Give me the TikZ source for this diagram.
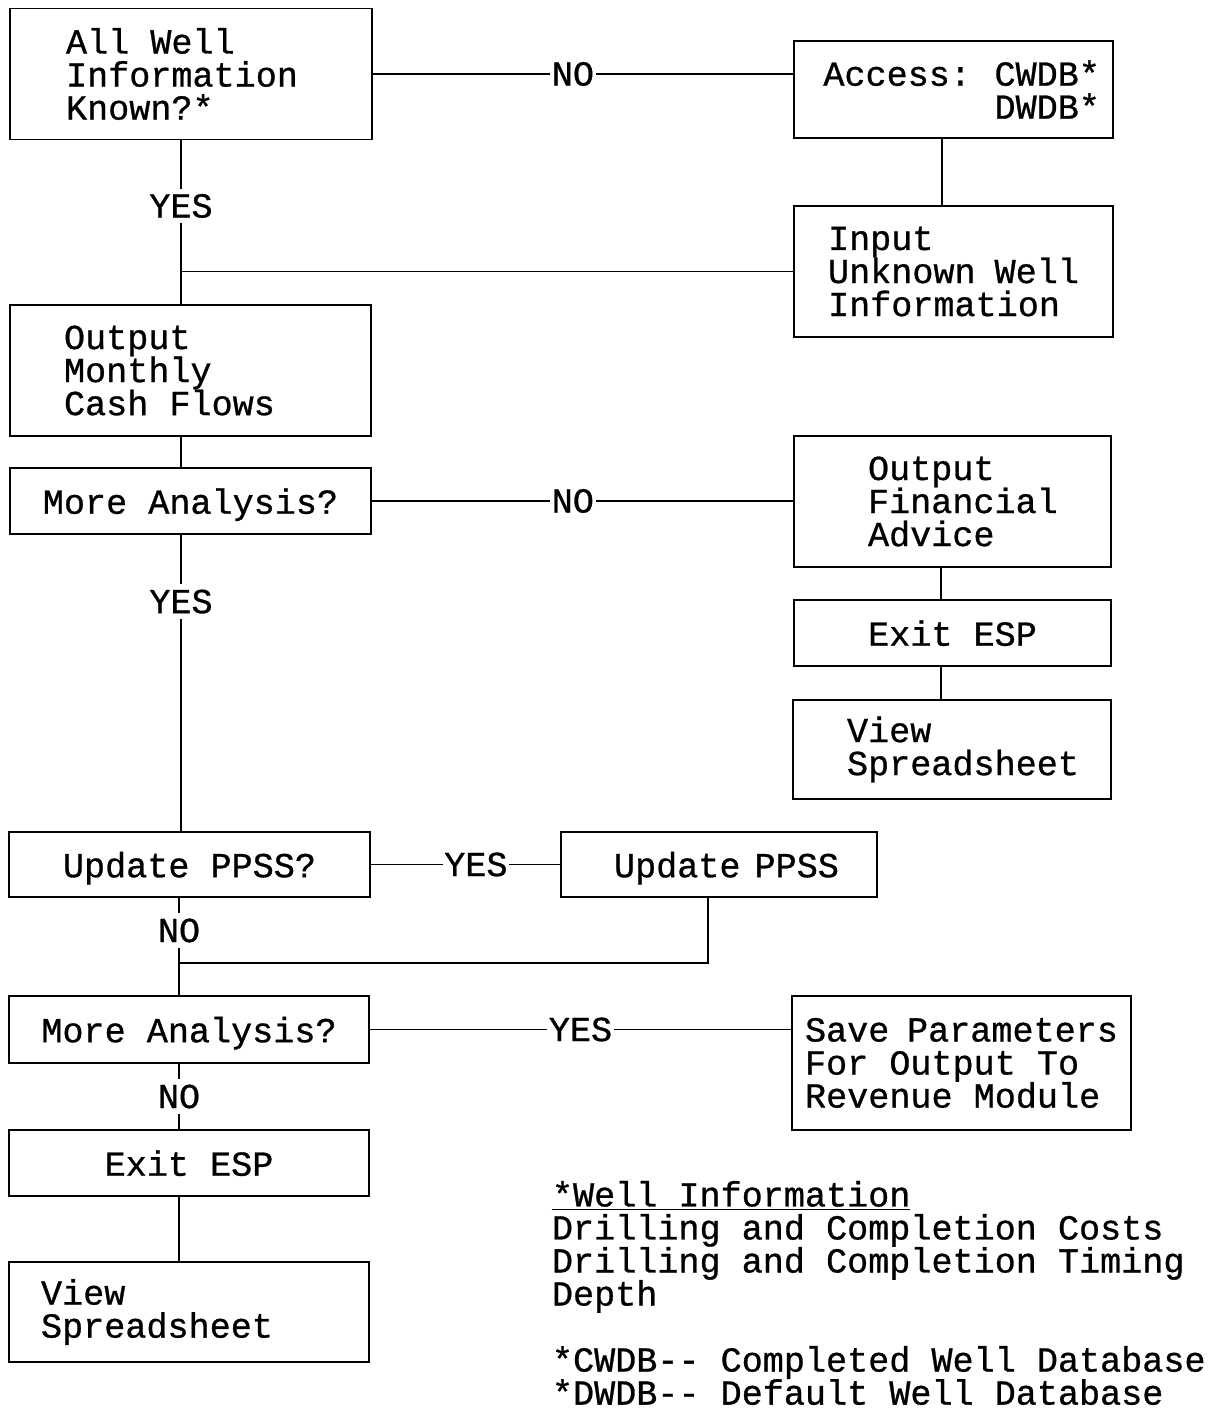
\documentclass[tikz,border=0pt]{standalone}
\usepackage{fontspec}
\newfontfamily\flowfam{Liberation Mono}[FakeBold=0.8]
\newcommand\flowfont{\flowfam\fontsize{20pt}{18.8pt}\selectfont\hyphenpenalty=10000 }

\begin{document}
\begin{tikzpicture}[x=0.02cm, y=-0.02cm, line width=1.1pt,
    box/.style={draw, font=\flowfont, inner ysep=0pt,
        execute at begin node={\spaceskip=0pt\xspaceskip=0pt}},
    onebox/.style={box, align=center, text depth=0pt},
    lbl/.style={fill=white, font=\flowfont, inner xsep=1pt, inner ysep=3pt}]
    \useasboundingbox (0,0) rectangle (1210,1409);

    \node[box, minimum width=7.24cm, minimum height=2.62cm, inner xsep=1.12cm, text width=5cm, align=left]
        (allinfo) at (191,74) {All Well\\Information\\Known?*};
    \node[box, minimum width=6.38cm, minimum height=1.94cm, inner xsep=0.26cm, text width=5.86cm, align=right]
        (access) at (953.5,89.5) {Access:~CWDB*\\DWDB*};
    \node[box, minimum width=6.38cm, minimum height=2.62cm, inner xsep=0.68cm, text width=5.02cm, align=left]
        (input) at (953.5,271.5) {Input\\Unknown~Well\\Information};
    \node[box, minimum width=7.22cm, minimum height=2.62cm, inner xsep=1.08cm, text width=5.06cm, align=left]
        (cash) at (190.5,370.5) {Output\\Monthly\\Cash~Flows};
    \node[onebox, minimum width=7.22cm, minimum height=1.32cm]
        (more) at (190.5,501) {More Analysis?};
    \node[box, minimum width=6.34cm, minimum height=2.62cm, inner xsep=1.48cm, text width=3.38cm, align=left]
        (advice) at (952.5,501.5) {Output\\Financial\\Advice};
    \node[onebox, minimum width=6.34cm, minimum height=1.32cm]
        (exitr) at (952.5,633) {Exit ESP};
    \node[box, minimum width=6.36cm, minimum height=1.98cm, inner xsep=1.08cm, text width=4.2cm, align=left]
        (viewr) at (952,749.5) {View\\Spreadsheet};
    \node[onebox, minimum width=7.22cm, minimum height=1.3cm]
        (askppss) at (189.5,864.5) {Update PPSS?};
    \node[box, minimum width=6.32cm, minimum height=1.3cm, inner xsep=1.06cm, text width=4.2cm, align=left, text depth=0pt]
        (ppss) at (719,864.5) {Update~PPSS};
    \node[onebox, minimum width=7.2cm, minimum height=1.34cm]
        (moretwo) at (189,1029.5) {More Analysis?};
    \node[box, minimum width=6.78cm, minimum height=2.68cm, inner xsep=0.26cm, text width=6.26cm, align=left]
        (save) at (961.5,1063) {Save~Parameters\\For Output To\\Revenue Module};
    \node[onebox, minimum width=7.2cm, minimum height=1.32cm]
        (exitl) at (189,1163) {Exit ESP};
    \node[box, minimum width=7.2cm, minimum height=2cm, inner xsep=0.64cm, text width=5.92cm, align=left]
        (viewl) at (189,1312) {View\\Spreadsheet};

    \coordinate (j1) at (181,271.5);
    \coordinate (rcol) at (941,0);
    \coordinate (j2) at (179,963);

    \draw (allinfo.east) -- node[lbl, pos=0.476] {NO} (allinfo.east -| access.west);
    \draw (allinfo.south -| j1) -- node[lbl] {YES} (j1) -- (cash.north -| j1);
    \draw (input.west) -- (j1);
    \draw ([xshift=-0.23cm]access.south) -- ([xshift=-0.23cm]access.south |- input.north);
    \draw (cash.south -| j1) -- (more.north -| j1);
    \draw (more.east) -- node[lbl, pos=0.477] {NO} (more.east -| advice.west);
    \draw (advice.south -| rcol) -- (exitr.north -| rcol);
    \draw (exitr.south -| rcol) -- (viewr.north -| rcol);
    \draw (more.south -| j1) -- node[lbl, pos=0.225] {YES} (askppss.north -| j1);
    \draw (askppss.east) -- node[lbl, pos=0.555] {YES} (ppss.west);
    \draw (askppss.south -| j2) -- node[lbl] {NO} (j2) -- (moretwo.north -| j2);
    \draw ([xshift=-0.22cm]ppss.south) |- (j2);
    \draw (moretwo.east) -- node[lbl] {YES} (moretwo.east -| save.west);
    \draw (moretwo.south -| j2) -- node[lbl] {NO} (exitl.north -| j2);
    \draw (exitl.south -| j2) -- (viewl.north -| j2);

    \node[font=\flowfont, align=left, anchor=north west, inner sep=0pt] (legend) at (551,1180)
        {\underline{*Well Information}\\Drilling and Completion Costs\\Drilling and Completion Timing\\Depth\\[18.8pt]*CWDB-{}- Completed Well Database\\*DWDB-{}- Default Well Database};
\end{tikzpicture}
\end{document}
